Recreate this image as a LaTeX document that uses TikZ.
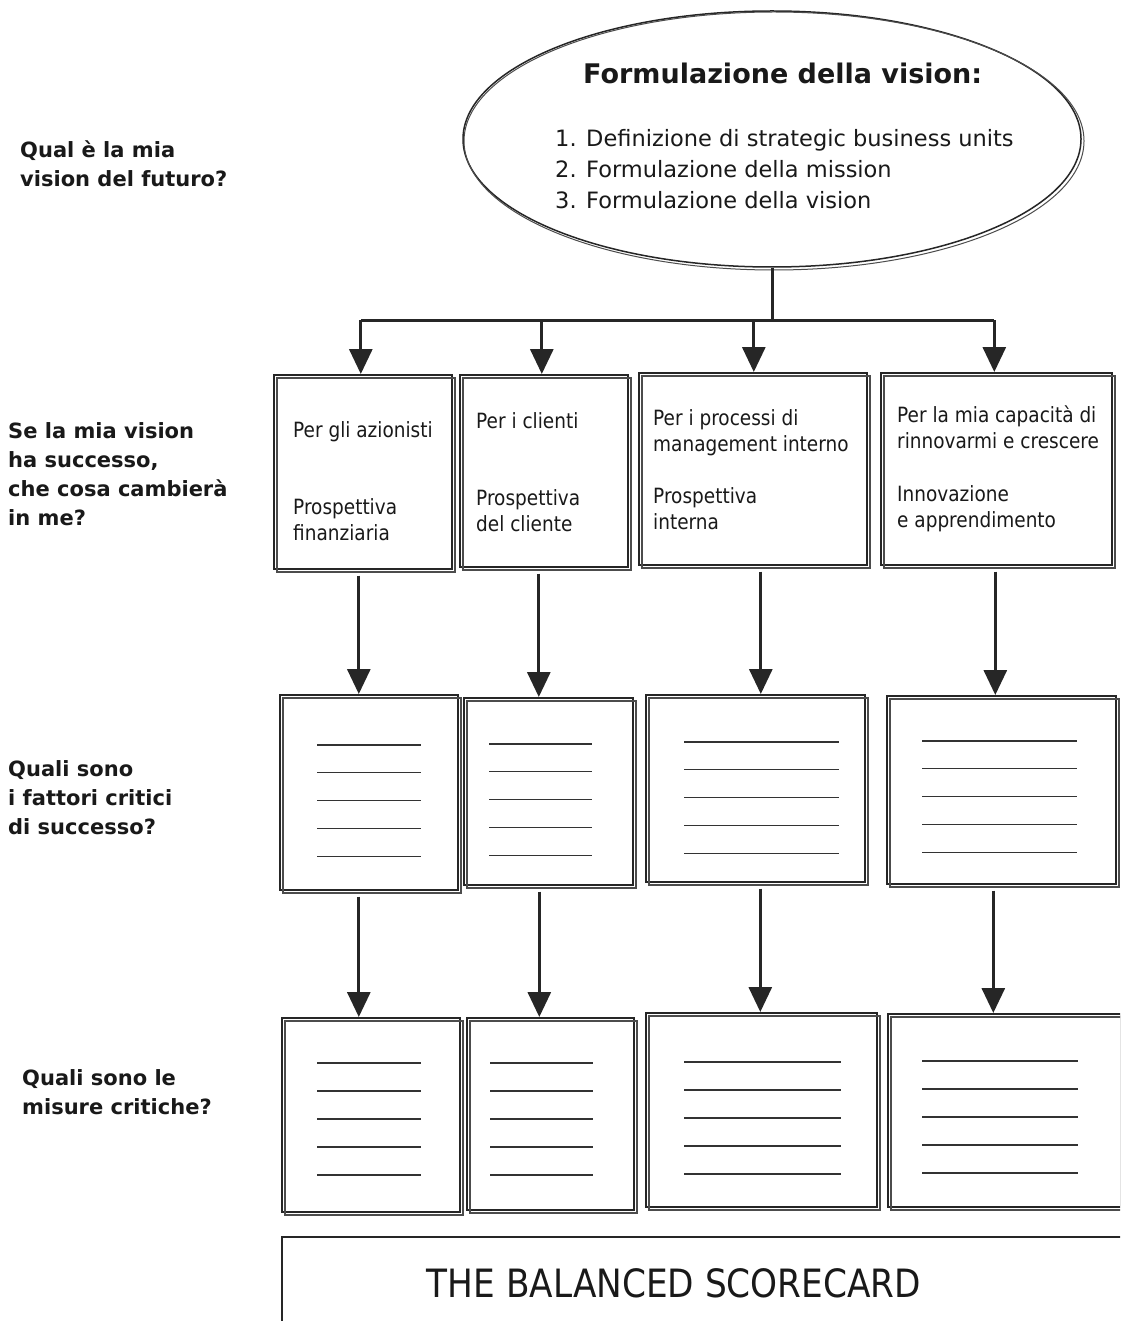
\documentclass[tikz,border=0pt]{standalone}
\usepackage{fontspec}
\setmainfont{DejaVu Sans}
\newfontfamily\tah{DejaVu Sans}[FakeStretch=0.88]
\usetikzlibrary{arrows.meta,shapes.geometric}

\newcommand\dblbox[5]{%
  \node[boxst, anchor=north west, minimum width={(#4-#2)*1pt}, minimum height={(#5-#3)*1pt}] (#1) at (#2,#3) {};
  \draw[boxtwin] (#2+4,#3+4) rectangle (#4+4,#5+4);
}
\newcommand\fivelines[4]{% x1, x2, y first, step
  \foreach \k in {0,...,4} {\draw[rulest] (#1,#3+\k*#4) -- (#2,#3+\k*#4);}
}

\begin{document}
\begin{tikzpicture}[x=1pt,y=-1pt,
  boxst/.style={draw=black!85, line width=1.6pt, inner sep=0pt},
  boxtwin/.style={draw=black!70, line width=1.1pt},
  arr/.style={line width=3pt, draw=black!85, -{Triangle[width=23pt,length=25pt]}},
  conn/.style={line width=3pt, draw=black!85},
  lbl/.style={font=\bfseries\fontsize{21}{29}\selectfont, align=left, anchor=north west, inner sep=0pt, text=black!90},
  btxt/.style={font=\tah\fontsize{21}{26}\selectfont, align=left, anchor=north west, inner sep=0pt, text=black!90},
  rulest/.style={line width=1.1pt, draw=black!80}
]
\useasboundingbox (0,0) rectangle (1120,1321);
\clip (0,0) rectangle (1120,1321);
\fill[white] (0,0) rectangle (1120,1321);

% ellipse
\node[draw=black!85, line width=1.5pt, ellipse, minimum width=618pt, minimum height=256pt, inner sep=0pt] (vis) at (772,139) {};
\draw[black!70, line width=1pt] (774,141) ellipse [x radius=310pt, y radius=129pt];
\node[font=\bfseries\fontsize{27}{30}\selectfont, anchor=north west, inner sep=0pt, text=black!90] (vtitle) at (583,63) {Formulazione della vision:};
\node[font=\fontsize{22.5}{31}\selectfont, align=left, anchor=north west, inner sep=0pt, text=black!90] (vlist) at (555,129)
  {1. Definizione di strategic business units\\2. Formulazione della mission\\3. Formulazione della vision};

% left labels
\node[lbl] (q1) at (20,141) {Qual è la mia\\vision del futuro?};
\node[lbl] (q2) at (8,422) {Se la mia vision\\ha successo,\\che cosa cambierà\\in me?};
\node[lbl] (q3) at (8,760) {Quali sono\\i fattori critici\\di successo?};
\node[lbl] (q4) at (22,1069) {Quali sono le\\misure critiche?};

% row 1
\dblbox{b11}{273}{374}{451}{568}
\dblbox{b12}{459}{374}{627}{566}
\dblbox{b13}{638}{372}{866}{564}
\dblbox{b14}{880}{372}{1111}{564}

\node[btxt] (t11a) at (293,421) {Per gli azionisti};
\node[btxt] (t11b) at (293,498) {Prospettiva\\finanziaria};
\node[btxt] (t12a) at (476,412) {Per i clienti};
\node[btxt] (t12b) at (476,489) {Prospettiva\\del cliente};
\node[btxt] (t13a) at (653,409) {Per i processi di\\management interno};
\node[btxt] (t13b) at (653,487) {Prospettiva\\interna};
\node[btxt] (t14a) at (897,406) {Per la mia capacità di\\rinnovarmi e crescere};
\node[btxt] (t14b) at (897,485) {Innovazione\\e apprendimento};

% row 2
\dblbox{b21}{279}{694}{457}{889}
\dblbox{b22}{463}{697}{632}{884}
\dblbox{b23}{645}{694}{864}{881}
\dblbox{b24}{886}{695}{1115}{883}
\fivelines{317}{421}{745}{27.8}
\fivelines{489}{592}{744}{27.8}
\fivelines{684}{839}{742}{27.8}
\fivelines{922}{1077}{741}{27.8}

% row 3
\dblbox{b31}{281}{1017}{459}{1211}
\dblbox{b32}{466}{1017}{633}{1209}
\dblbox{b33}{645}{1012}{876}{1206}
\dblbox{b34}{887}{1013}{1120}{1206}
\fivelines{317}{421}{1063}{28}
\fivelines{490}{593}{1063}{28}
\fivelines{684}{841}{1062}{28}
\fivelines{922}{1078}{1061}{28}

% bottom box
\node[boxst, anchor=north west, minimum width=900pt, minimum height=120pt] (bsc) at (281,1236) {};
\node[font=\tah\fontsize{39}{44}\selectfont, inner sep=0pt, text=black!90] (bsct) at (674,1283) {THE BALANCED SCORECARD};

% connectors
\coordinate (split) at (772,320);
\draw[conn] (vis.south) -- (split);
\draw[conn] ([xshift=-2pt]b11.north |- split) -- ([xshift=-2pt]b14.north |- split);
\draw[arr] ([xshift=-2pt]b11.north |- split) -- ([xshift=-2pt]b11.north);
\draw[arr] ([xshift=-2pt]b12.north |- split) -- ([xshift=-2pt]b12.north);
\draw[arr] ([xshift=1pt]b13.north |- split) -- ([xshift=1pt]b13.north);
\draw[arr] ([xshift=-2pt]b14.north |- split) -- ([xshift=-2pt]b14.north);

\draw[arr] ([xshift=-4pt,yshift=-6pt]b11.south) -- ([xshift=-4pt]b11.south |- b21.north);
\draw[arr] ([xshift=-5pt,yshift=-6pt]b12.south) -- ([xshift=-5pt]b12.south |- b22.north);
\draw[arr] ([xshift=8pt,yshift=-6pt]b13.south) -- ([xshift=8pt]b13.south |- b23.north);
\draw[arr] ([xshift=-1pt,yshift=-6pt]b14.south) -- ([xshift=-1pt]b14.south |- b24.north);

\draw[arr] ([xshift=-10pt,yshift=-6pt]b21.south) -- ([xshift=-10pt]b21.south |- b31.north);
\draw[arr] ([xshift=-9pt,yshift=-6pt]b22.south) -- ([xshift=-9pt]b22.south |- b32.north);
\draw[arr] ([xshift=5pt,yshift=-6pt]b23.south) -- ([xshift=5pt]b23.south |- b33.north);
\draw[arr] ([xshift=-8pt,yshift=-6pt]b24.south) -- ([xshift=-8pt]b24.south |- b34.north);
\end{tikzpicture}
\end{document}
